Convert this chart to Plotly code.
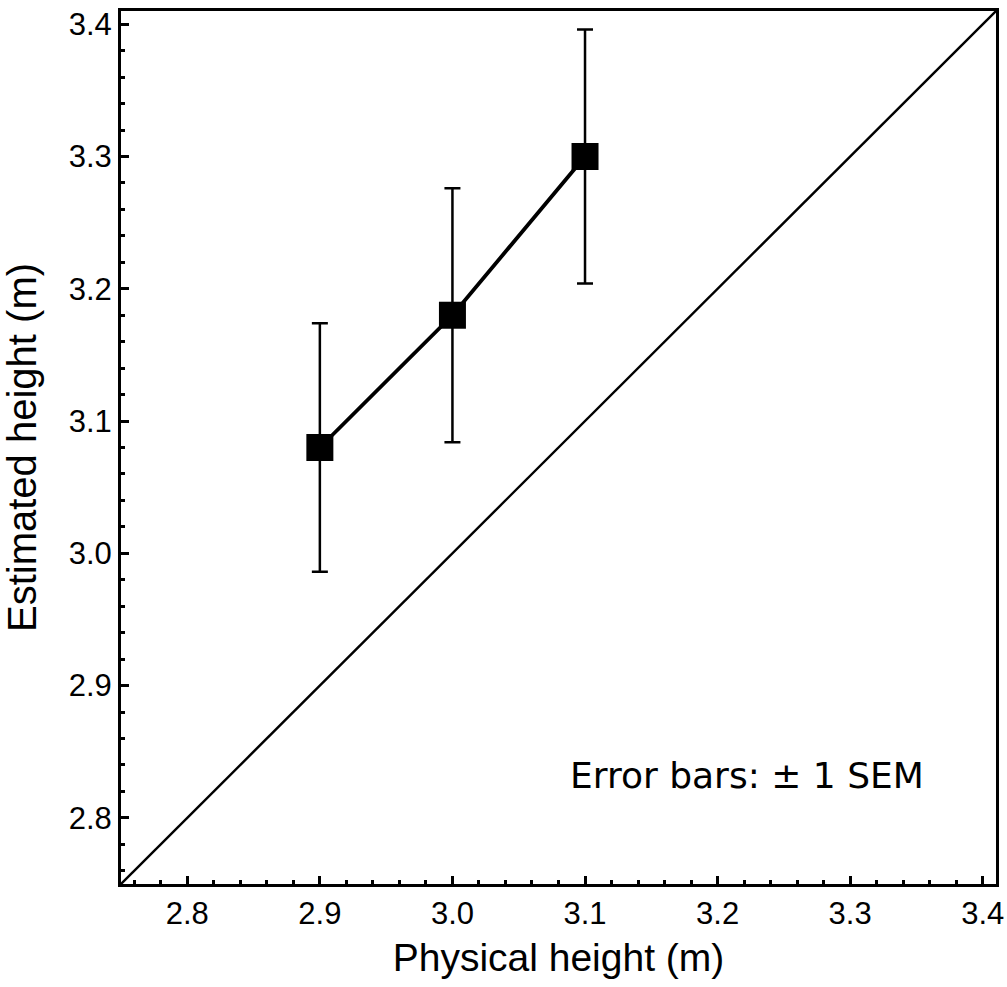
import plotly.graph_objects as go

physical = [2.9, 3.0, 3.1]
estimated = [3.08, 3.18, 3.30]
sem = [0.094, 0.096, 0.096]
diag = [2.75, 3.41]
tick_vals = [2.8, 2.9, 3.0, 3.1, 3.2, 3.3, 3.4]

fig = go.Figure()
fig.add_trace(go.Scatter(x=diag, y=diag, mode="lines",
                         line=dict(color="black", width=2.4), showlegend=False))
fig.add_trace(go.Scatter(
    x=physical, y=estimated, mode="lines+markers",
    line=dict(color="black", width=3.8),
    marker=dict(symbol="square", size=27, color="black"),
    error_y=dict(type="data", array=sem, visible=True, color="black",
                 thickness=2.5, width=8),
    showlegend=False))

fig.add_annotation(x=3.222, y=2.832, xref="x", yref="y", text="Error bars: ± 1 SEM",
                   showarrow=False, font=dict(family="DejaVu Sans", size=36, color="black"),
                   xanchor="center", yanchor="middle")

axis_common = dict(
    range=[2.75, 3.41], tickvals=tick_vals, tickformat=".1f",
    showline=True, linecolor="black", linewidth=3, mirror=True,
    ticks="inside", ticklen=8, tickwidth=3, tickcolor="black",
    minor=dict(dtick=0.02, tick0=2.8, ticks="inside", ticklen=4, tickwidth=2.5, tickcolor="black"),
    showgrid=False, zeroline=False,
    tickfont=dict(family="Liberation Sans", size=31, color="black"),
)

fig.update_xaxes(**axis_common,
                 title=dict(text="Physical height (m)", standoff=14,
                            font=dict(family="Liberation Sans", size=39, color="black")))
fig.update_yaxes(**axis_common,
                 title=dict(text="Estimated height (m)", standoff=20,
                            font=dict(family="Liberation Sans", size=40, color="black")))

fig.update_layout(width=1007, height=987,
                  margin=dict(l=121, r=11, t=11, b=103, autoexpand=False),
                  plot_bgcolor="white", paper_bgcolor="white")

fig.write_html("out.html", config={"displayModeBar": False},
               post_script="document.body.style.margin='0';")
